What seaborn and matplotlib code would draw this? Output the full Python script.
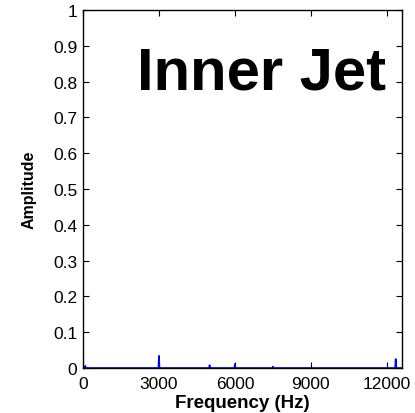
import matplotlib
matplotlib.use("Agg")
import matplotlib.pyplot as plt
import seaborn as sns

# spectrum values (Hz, amplitude)
freq_hz = [0, 20, 90, 110, 2980, 3000, 3020, 4980, 5000, 5020, 5980, 6000, 6020,
           7480, 7500, 7520, 12330, 12350, 12370, 12600]
amplitude = [0.004, 0.0, 0.006, 0.0, 0.0, 0.034, 0.0, 0.0, 0.008, 0.0, 0.0, 0.011, 0.0,
             0.0, 0.004, 0.0, 0.0, 0.025, 0.0, 0.0]

x_ticks = [0, 3000, 6000, 9000, 12000]
y_ticks = [0, 0.1, 0.2, 0.3, 0.4, 0.5, 0.6, 0.7, 0.8, 0.9, 1]
y_ticklabels = ["0", "0.1", "0.2", "0.3", "0.4", "0.5", "0.6", "0.7", "0.8", "0.9", "1"]

sns.set_style("ticks")
plt.rcParams['font.family'] = ['Liberation Sans', 'DejaVu Sans']
plt.rcParams['text.color'] = 'black'
plt.rcParams['xtick.color'] = 'black'
plt.rcParams['ytick.color'] = 'black'
plt.rcParams['axes.labelcolor'] = 'black'

fig = plt.figure(figsize=(4.15, 4.14), dpi=100)
ax = fig.add_axes([83 / 415, 1 - 369 / 414, 319 / 415, 358 / 414])

sns.lineplot(x=freq_hz, y=amplitude, ax=ax, color='#0000ff', linewidth=1.2)

ax.set_xlim(0, 12600)
ax.set_ylim(0, 1)
ax.set_xticks(x_ticks)
ax.set_xticklabels([str(t) for t in x_ticks], fontsize=12.5)
ax.set_yticks(y_ticks)
ax.set_yticklabels(y_ticklabels, fontsize=12.5)
ax.tick_params(direction='in', top=True, right=True, length=4, width=0.8)
ax.tick_params(axis='x', pad=6)
ax.tick_params(axis='y', pad=4)

for s in ax.spines.values():
    s.set_linewidth(1.0)
    s.set_color('black')

ax.set_xlabel('Frequency (Hz)', fontsize=13.5, weight='bold', labelpad=2)
ax.set_ylabel('Amplitude', fontsize=11.5, weight='bold', labelpad=12)

ax.text(7050, 0.825, 'Inner Jet', fontsize=43, weight='bold', ha='center', va='center')

fig.savefig('out.png', dpi=100)
